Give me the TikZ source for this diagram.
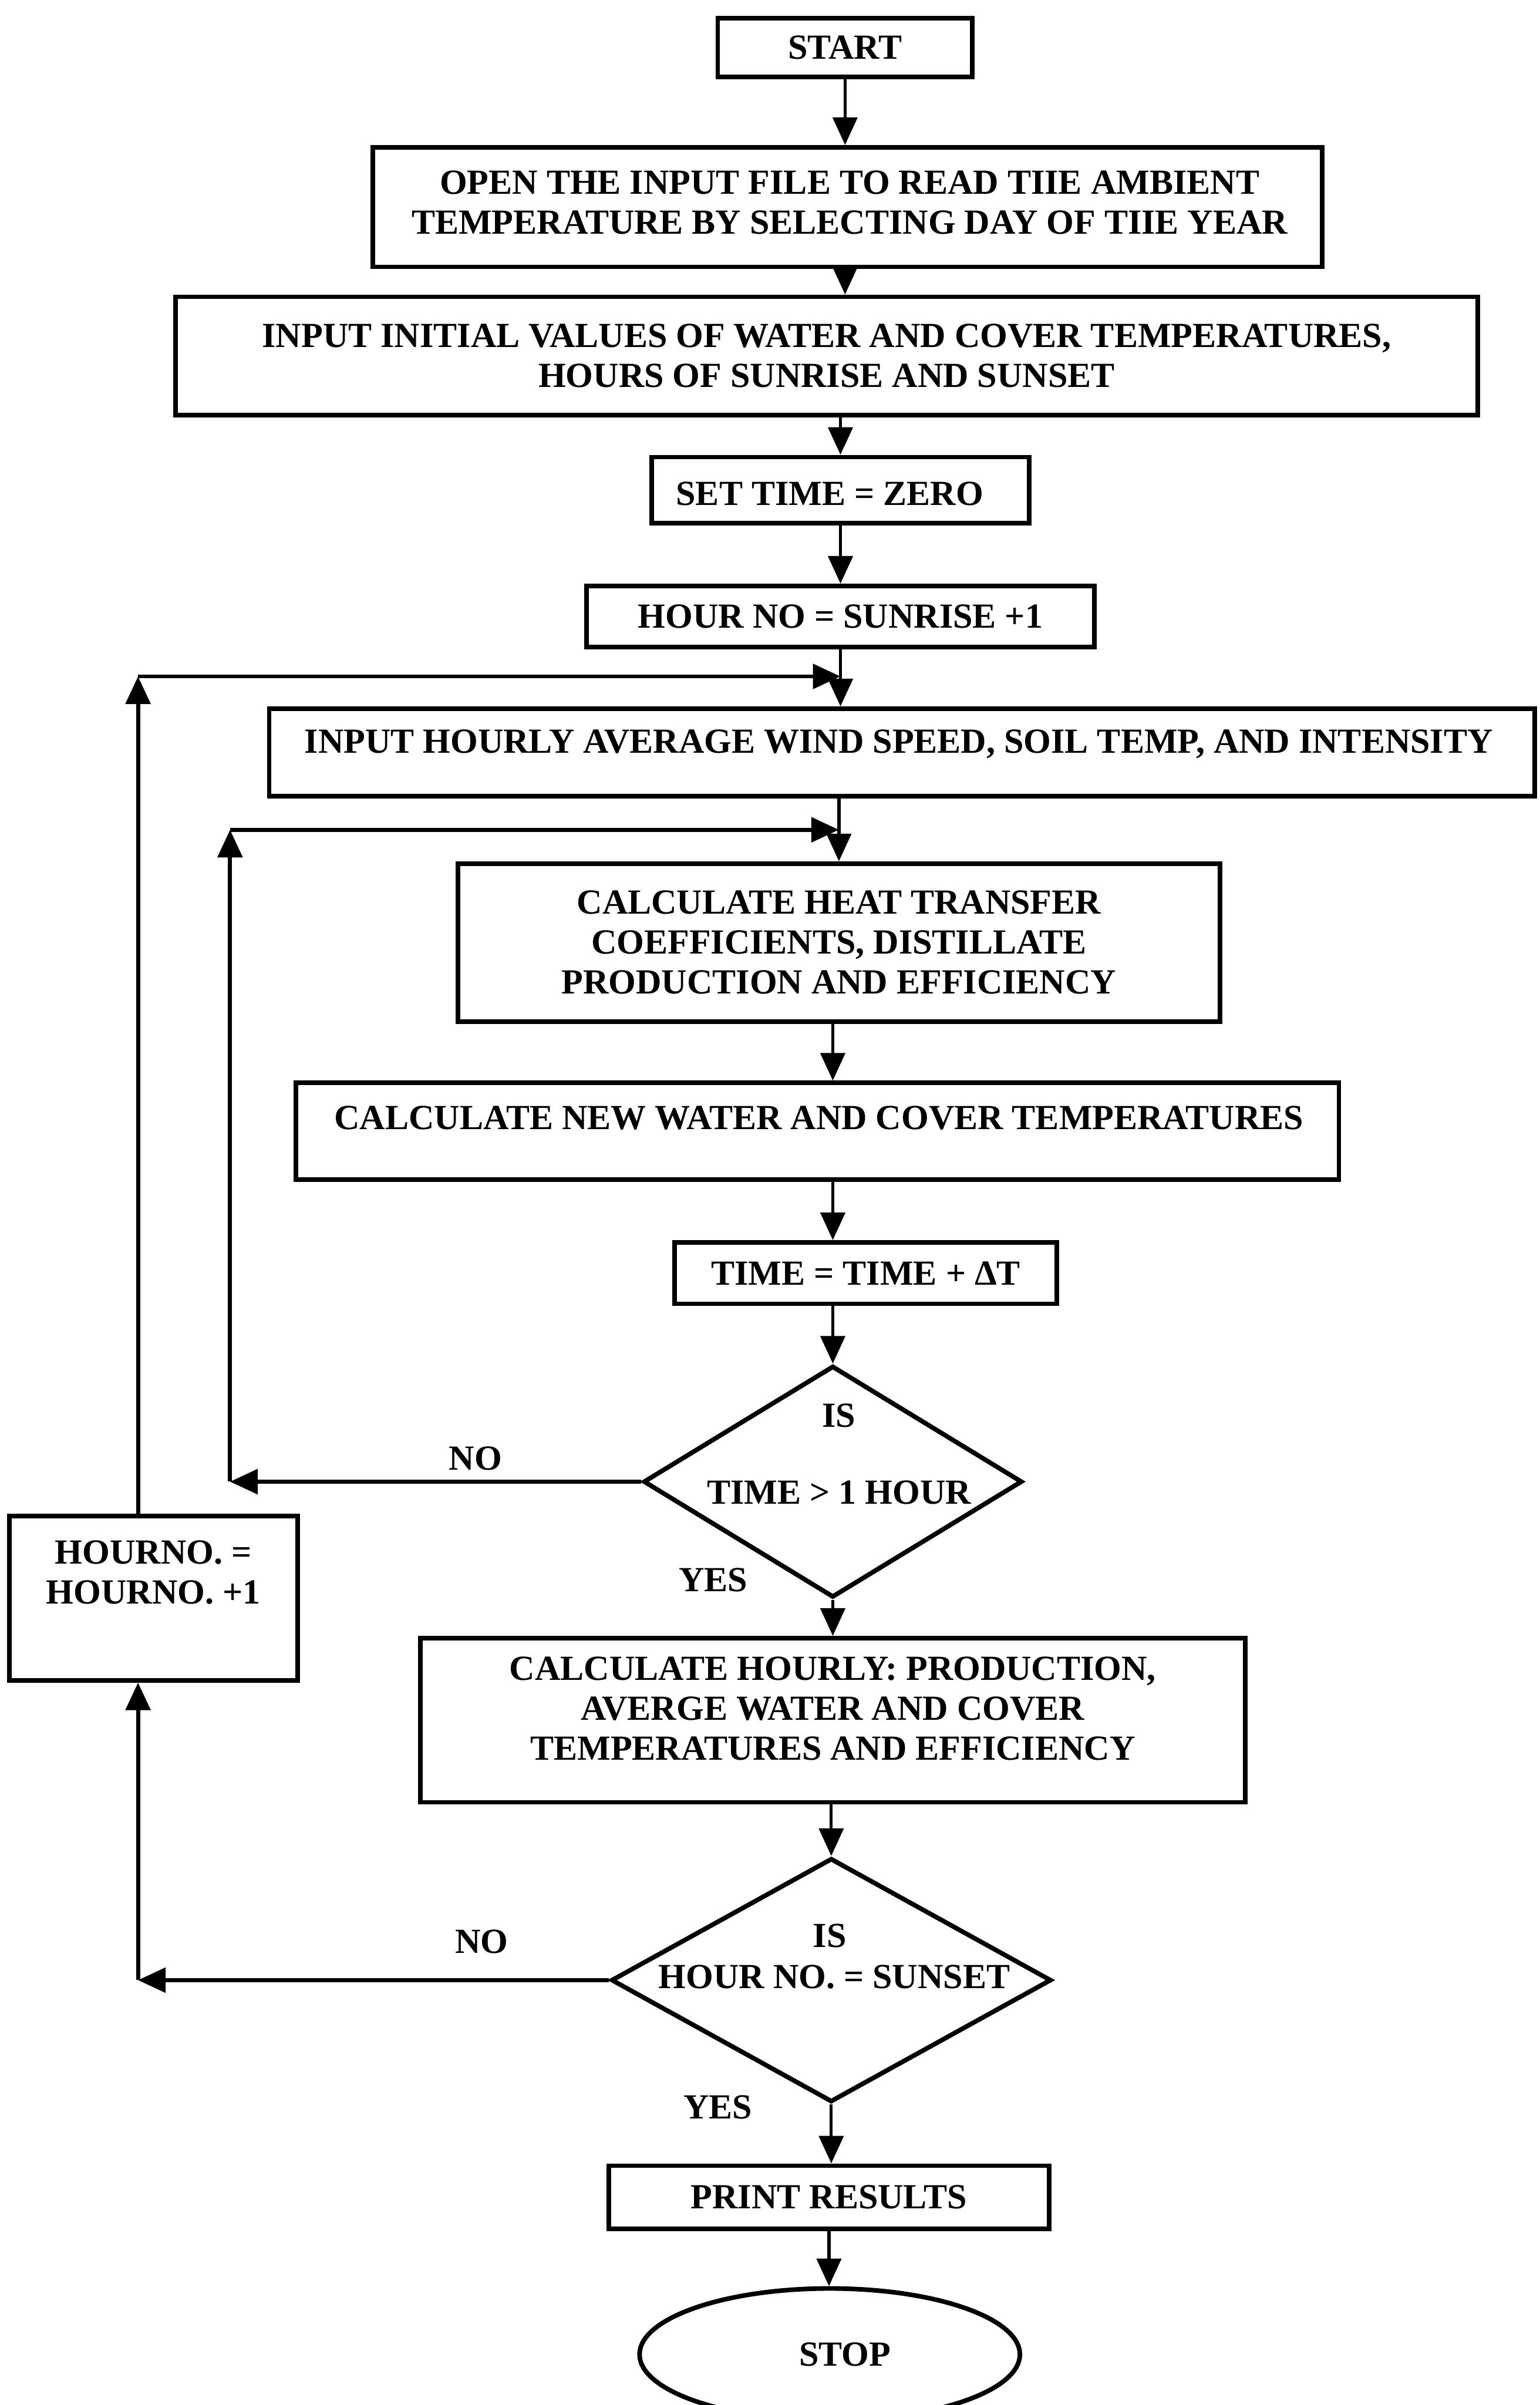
\documentclass[tikz,border=0pt]{standalone}
\usepackage{fontspec}
\setmainfont{Liberation Serif}
\usetikzlibrary{arrows.meta,shapes.geometric}
\begin{document}
\begin{tikzpicture}[x=1pt,y=-1pt,
  every node/.style={font=\fontsize{23pt}{26pt}\selectfont\bfseries},
  box/.style={draw, rectangle, line width=3pt, inner sep=0pt, align=center},
  txt/.style={align=center, inner sep=0pt},
  dec/.style={draw, diamond, line width=3pt, inner sep=0pt},
  term/.style={draw, ellipse, line width=3pt, inner sep=0pt},
  lab/.style={inner sep=0pt},
  arr/.style={line width=2pt, -{Triangle[length=18pt,width=16pt]}},
  back/.style={line width=2.6pt, -{Triangle[length=18pt,width=16pt]}}]

\fill[white] (0,0) rectangle (1004,1568);
\useasboundingbox (0,0) rectangle (1004,1568);

% main column of steps
\node[box, minimum width=166pt, minimum height=38pt] (start) at (551,31) {START};

\node[box, minimum width=619pt, minimum height=78pt] (open) at (552.5,135) {};
\node[txt] (openT) at (554,132) {OPEN THE INPUT FILE TO READ TIIE AMBIENT\\TEMPERATURE BY SELECTING DAY OF TIIE YEAR};

\node[box, minimum width=849pt, minimum height=77pt] (init) at (539,232)
  {INPUT INITIAL VALUES OF WATER AND COVER TEMPERATURES,\\HOURS OF SUNRISE AND SUNSET};

\node[box, minimum width=246pt, minimum height=43pt] (settime) at (548,319.5) {};
\node[txt] (settimeT) at (541,322) {SET TIME = ZERO};

\node[box, minimum width=331pt, minimum height=40pt] (hour) at (548,402) {HOUR NO = SUNRISE +1};

\node[box, minimum width=825pt, minimum height=57pt] (wind) at (588,490.5) {};
\node[txt] (windT) at (586,485) {INPUT HOURLY AVERAGE WIND SPEED, SOIL TEMP, AND INTENSITY};

\node[box, minimum width=497pt, minimum height=103pt] (heat) at (547,614.5)
  {CALCULATE HEAT TRANSFER\\COEFFICIENTS, DISTILLATE\\PRODUCTION AND EFFICIENCY};

\node[box, minimum width=680pt, minimum height=63pt] (newtemp) at (533,737.5) {};
\node[txt] (newtempT) at (534,729) {CALCULATE NEW WATER AND COVER TEMPERATURES};

\node[box, minimum width=249pt, minimum height=40pt] (time) at (564.5,830) {TIME = TIME + ΔT};

\node[dec, minimum width=247pt, minimum height=151pt] (dec1) at (543,966) {};
\node[lab] (dec1a) at (547,923) {IS};
\node[lab] (dec1b) at (547,973) {TIME > 1 HOUR};

\node[box, minimum width=538pt, minimum height=107pt] (hourly) at (543,1121.5) {};
\node[txt] (hourlyT) at (543,1114) {CALCULATE HOURLY: PRODUCTION,\\AVERGE WATER AND COVER\\TEMPERATURES AND EFFICIENCY};

\node[dec, minimum width=287pt, minimum height=159pt] (dec2) at (542,1291) {};
\node[lab] (dec2a) at (541,1262) {IS};
\node[lab] (dec2b) at (544,1289) {HOUR NO. = SUNSET};

\node[box, minimum width=287pt, minimum height=41pt] (print) at (540.5,1432.5) {PRINT RESULTS};

\node[term, minimum width=248pt, minimum height=86pt] (stop) at (541,1535) {};
\node[lab] (stopT) at (551,1535) {STOP};

% hour counter box on the left
\node[box, minimum width=188pt, minimum height=107pt] (hourno) at (100,1042) {};
\node[txt] (hournoT) at (100,1025) {HOURNO. =\\HOURNO. +1};

% branch labels
\node[lab] (no1) at (310,951) {NO};
\node[lab] (yes1) at (465,1030) {YES};
\node[lab] (no2) at (314,1266) {NO};
\node[lab] (yes2) at (468,1374) {YES};

% forward flow
\draw[arr] (start.south) -- (start.south |- open.north);
\draw[arr] (open.south -| start.south) -- (init.north -| start.south);
\draw[arr] (init.south -| settime.north) -- (settime.north);
\draw[arr] (settime.south) -- (hour.north);
\draw[arr] (hour.south) -- (hour.south |- wind.north);
\draw[arr] (wind.south -| heat.north) -- (heat.north);
\draw[arr] (heat.south -| dec1.north) -- (newtemp.north -| dec1.north);
\draw[arr] (newtemp.south -| dec1.north) -- (time.north -| dec1.north);
\draw[arr] (time.south -| dec1.north) -- (dec1.north);
\draw[arr] (dec1.south) -- (dec1.south |- hourly.north);
\draw[arr] (hourly.south -| dec2.north) -- (dec2.north);
\draw[arr] (dec2.south) -- (dec2.south |- print.north);
\draw[arr] (print.south) -- (print.south |- stop.north);

% return paths
\coordinate (outerTop) at (90,441);
\coordinate (innerTop) at (150,541);
\coordinate (innerBot) at (150,966);
\coordinate (outerBot) at (90,1291);

\draw[back] (hourno.north -| outerTop) -- (outerTop);
\draw[back] (outerTop) -- (outerTop -| hour.south);
\draw[back] (dec1.west) -- (innerBot);
\draw[back] (innerBot) -- (innerTop);
\draw[back] (innerTop) -- (innerTop -| heat.north);
\draw[back] (dec2.west) -- (outerBot);
\draw[back] (outerBot) -- (hourno.south -| outerBot);
\end{tikzpicture}
\end{document}
